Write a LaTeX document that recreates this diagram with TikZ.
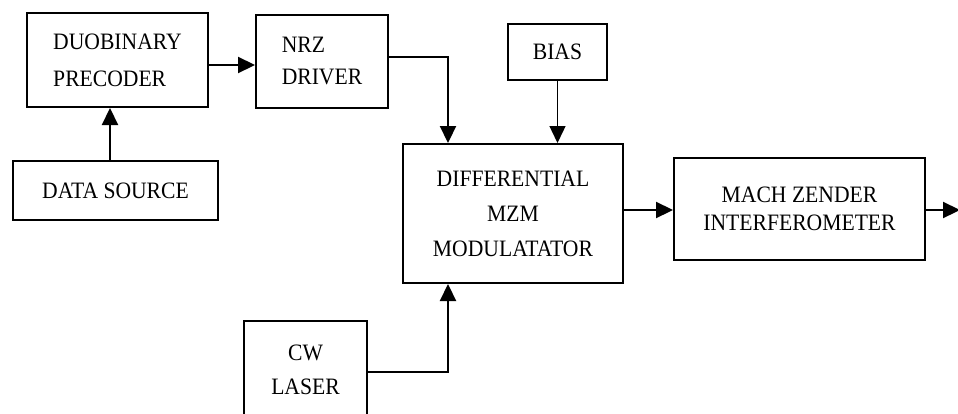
\documentclass[tikz,border=0pt]{standalone}
\usepackage{fontspec}
\setmainfont{Liberation Serif}[FakeStretch=0.92]
\usetikzlibrary{arrows.meta,calc}
\begin{document}
\begin{tikzpicture}[x=1pt,y=-1pt,
  blk/.style={draw=black,line width=2pt,rectangle,inner sep=0pt,
    font=\fontsize{23.5}{35}\selectfont},
  conn/.style={line width=2.2pt,-{Triangle[length=17pt,width=16pt]}},
  thin conn/.style={line width=1.4pt,-{Triangle[length=17pt,width=16pt]}}]
\useasboundingbox (0,0) rectangle (958,413);
\clip (0,0) rectangle (958,413);
% blocks
\node[blk,minimum width=181pt,minimum height=94pt,align=left] (prec) at (117.5,60)
  {DUOBINARY\\[2pt]PRECODER};
\node[blk,minimum width=132pt,minimum height=93pt,align=left] (nrz) at (322,61)
  {NRZ\\[-3pt]DRIVER};
\node[blk,minimum width=205pt,minimum height=59pt] (data) at (115.5,190.5)
  {DATA SOURCE};
\node[blk,minimum width=99pt,minimum height=56pt] (bias) at (557.5,52)
  {BIAS};
\node[blk,minimum width=220pt,minimum height=139pt,align=center] (mzm) at (513,213.5)
  {DIFFERENTIAL\\[0pt]MZM\\[0pt]MODULATATOR};
\node[blk,minimum width=251pt,minimum height=102pt,align=center] (mach) at (799.5,209)
  {MACH ZENDER\\[-7pt]INTERFEROMETER};
\node[blk,minimum width=123pt,minimum height=98pt,align=center] (cw) at (305.5,370)
  {CW\\[-1pt]LASER};
% helper coordinates
\coordinate (xdata) at (110,0);
\coordinate (yprec) at (0,65);
\coordinate (ynrz) at (0,57);
\coordinate (xmod) at (448,0);
\coordinate (ycw) at (0,372);
\coordinate (ymach) at (0,210);
\coordinate (out) at (960,210);
% connectors
\draw[conn] (data.north -| xdata) -- (prec.south -| xdata);
\draw[conn] (prec.east |- yprec) -- (nrz.west |- yprec);
\draw[conn] (nrz.east |- ynrz) -| (mzm.north -| xmod);
\draw[thin conn] (bias.south) -- (mzm.north -| bias.south);
\draw[conn] (cw.east |- ycw) -| (mzm.south -| xmod);
\draw[conn] (mzm.east |- ymach) -- (mach.west |- ymach);
\draw[conn] (mach.east |- ymach) -- (out);
\end{tikzpicture}
\end{document}
